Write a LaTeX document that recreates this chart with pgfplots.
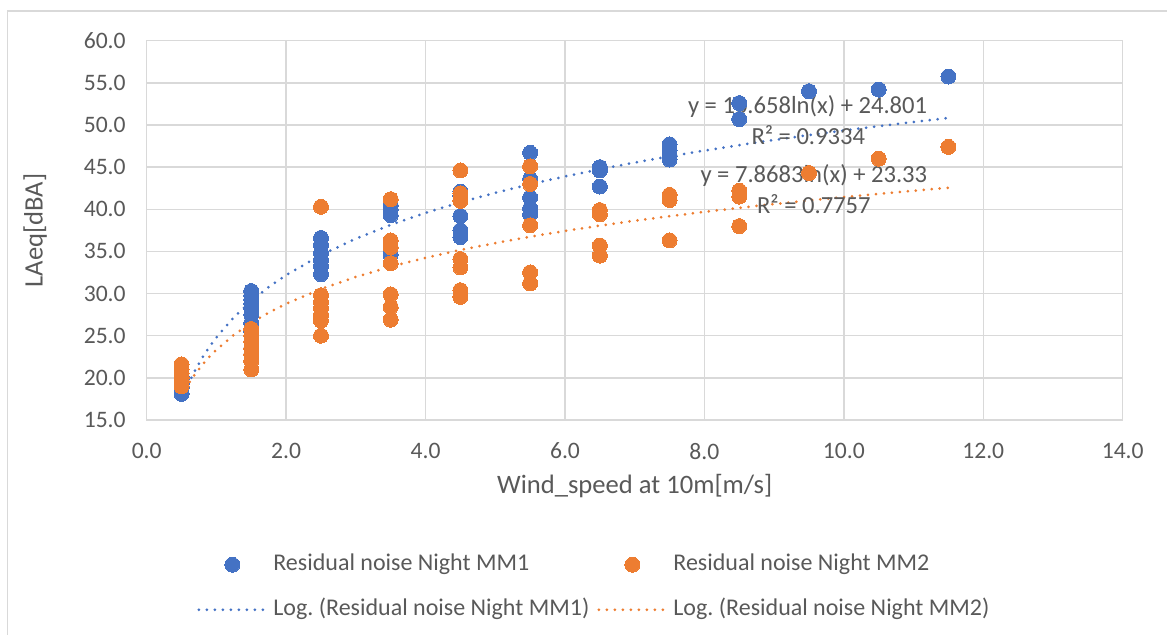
\documentclass[border=0pt]{standalone}
\usepackage{fontspec}
\setmainfont{Carlito}
\usepackage{pgfplots}
\pgfplotsset{compat=1.18}
\frenchspacing
\definecolor{mmBlue}{HTML}{4472C4}
\definecolor{mmOrange}{HTML}{ED7D31}
\definecolor{gridGray}{HTML}{D9D9D9}
\definecolor{txtGray}{HTML}{595959}
\pgfplotsset{
  dotline/.style={line width=1.5pt, line cap=round, dash pattern=on 0pt off 4pt},
  dots/.style={only marks, mark=*, mark size=3.75pt,
    mark options={draw=#1, fill=#1, line width=0pt}},
  legmark/.style={legend image code/.code={%
    \path[draw=none] (0pt,0pt) -- (33.5pt,0pt);
    \draw[##1] plot coordinates {(16.75pt,0pt)};}},
  legline/.style={legend image code/.code={\draw[##1] (0pt,0pt) -- (33.5pt,0pt);}},
}
\begin{document}
\begin{tikzpicture}
\useasboundingbox (0,0) rectangle (583.5pt,317.5pt);
\draw[gridGray, line width=0.75pt] (3.75pt,-5pt) -- (3.75pt,312pt) -- (590pt,312pt);
\begin{axis}[
  at={(73.35pt,107.5pt)}, anchor=south west,
  scale only axis, width=488pt, height=189.65pt,
  xmin=0, xmax=14, ymin=15, ymax=60,
  xtick={0,2,...,14}, ytick={15,20,...,60},
  /pgf/number format/assume math mode=true,
  /pgf/number format/fixed, /pgf/number format/fixed zerofill,
  /pgf/number format/precision=1,
  tick label style={font=\fontsize{11.8}{14}\selectfont, text=txtGray},
  xticklabel style={yshift=-8pt},
  yticklabel style={xshift=-7pt},
  grid=major, major grid style={draw=gridGray, line width=0.75pt},
  axis line style={draw=gridGray, line width=0.75pt},
  major tick length=0pt,
  label style={font=\fontsize{13.3}{15}\selectfont, text=txtGray},
  xlabel={Wind\_speed at 10m[m/s]},
  ylabel={LAeq[dBA]},
  xlabel style={at={(axis description cs:0.5,-0.175)}, anchor=center},
  ylabel style={at={(axis description cs:-0.1144,0.5)}, anchor=center},
  legend columns=2,
  legend cell align=left,
  legend style={at={(axis description cs:0.0515,-0.349)}, anchor=north west,
    draw=none, fill=none, inner sep=0pt, column sep=0pt, row sep=10.5pt,
    font=\fontsize{12}{14}\selectfont, text=txtGray,
    nodes={inner xsep=3pt, inner ysep=0pt, text height=9pt, text depth=3pt},
    /tikz/every even column/.append style={column sep=1pt}},
]
\addplot[dots=mmBlue, legmark]
coordinates {
(0.5,18.1)(0.5,18.8)(0.5,19.3)(0.5,19.8)(0.5,20.2)
(1.5,30.3)(1.5,29.8)(1.5,29.3)(1.5,28.8)(1.5,28.2)(1.5,27.5)(1.5,26.5)(1.5,25.5)(1.5,23.5)(1.5,22.8)
(2.5,36.6)(2.5,35.8)(2.5,34.8)(2.5,34.0)(2.5,33.3)(2.5,32.3)
(3.5,40.5)(3.5,40.0)(3.5,39.3)(3.5,34.6)
(4.5,42.1)(4.5,41.6)(4.5,39.2)(4.5,37.5)(4.5,36.7)
(5.5,46.7)(5.5,43.6)(5.5,41.4)(5.5,40.1)(5.5,39.4)
(6.5,45.0)(6.5,44.6)(6.5,42.7)
(7.5,47.7)(7.5,47.0)(7.5,46.3)(7.5,45.9)
(8.5,52.6)(8.5,50.7)
(9.5,54.0)(10.5,54.2)(11.5,55.75)
};
\addlegendentry{Residual noise Night MM1}
\addplot[dots=mmOrange, legmark]
coordinates {
(0.5,19.0)(0.5,19.5)(0.5,20.0)(0.5,20.5)(0.5,21.0)(0.5,21.6)
(1.5,25.8)(1.5,25.0)(1.5,24.3)(1.5,23.5)(1.5,22.8)(1.5,22.0)(1.5,21.0)
(2.5,40.3)(2.5,29.8)(2.5,29.0)(2.5,28.3)(2.5,27.5)(2.5,26.8)(2.5,25.0)
(3.5,41.2)(3.5,36.3)(3.5,35.5)(3.5,33.6)(3.5,29.9)(3.5,28.4)(3.5,26.9)
(4.5,44.6)(4.5,41.9)(4.5,41.0)(4.5,34.1)(4.5,33.1)(4.5,30.4)(4.5,29.6)
(5.5,45.1)(5.5,43.0)(5.5,38.1)(5.5,32.5)(5.5,31.2)
(6.5,39.9)(6.5,39.4)(6.5,35.7)(6.5,34.5)
(7.5,41.7)(7.5,41.1)(7.5,36.3)
(8.5,42.2)(8.5,41.5)(8.5,38.0)
(9.5,44.3)(10.5,46.0)(11.5,47.4)
};
\addlegendentry{Residual noise Night MM2}
\addplot[mmBlue, dotline, no marks, legline]
coordinates {
(0.5,17.41)(0.6,19.36)(0.7,21.00)(0.8,22.42)(0.9,23.68)(1.0,24.80)
(1.25,27.18)(1.5,29.12)(1.75,30.77)(2,32.19)(2.5,34.57)(3,36.51)
(3.5,38.15)(4,39.58)(4.5,40.83)(5,41.95)(5.5,42.97)(6,43.90)
(6.5,44.75)(7,45.54)(7.5,46.28)(8,46.96)(8.5,47.61)(9,48.22)
(9.5,48.80)(10,49.34)(10.5,49.86)(11,50.36)(11.5,50.83)
};
\addlegendentry{Log. (Residual noise Night MM1)}
\addplot[mmOrange, dotline, no marks, legline]
coordinates {
(0.5,17.88)(0.6,19.31)(0.7,20.52)(0.8,21.57)(0.9,22.50)(1.0,23.33)
(1.25,25.09)(1.5,26.52)(1.75,27.73)(2,28.78)(2.5,30.54)(3,31.97)
(3.5,33.19)(4,34.24)(4.5,35.17)(5,35.99)(5.5,36.74)(6,37.43)
(6.5,38.06)(7,38.64)(7.5,39.18)(8,39.69)(8.5,40.17)(9,40.62)
(9.5,41.04)(10,41.45)(10.5,41.83)(11,42.20)(11.5,42.55)
};
\addlegendentry{Log. (Residual noise Night MM2)}
\begin{scope}[every node/.style={font=\fontsize{12.3}{14}\selectfont, text=txtGray}]
\node at (axis cs:9.48,52.25) {y = 10.658ln(x) + 24.801};
\node at (axis cs:9.49,48.8) {R² = 0.9334};
\node at (axis cs:9.57,43.98) {y = 7.8683ln(x) + 23.33};
\node at (axis cs:9.57,40.6) {R² = 0.7757};
\end{scope}
\end{axis}
\end{tikzpicture}
\end{document}
